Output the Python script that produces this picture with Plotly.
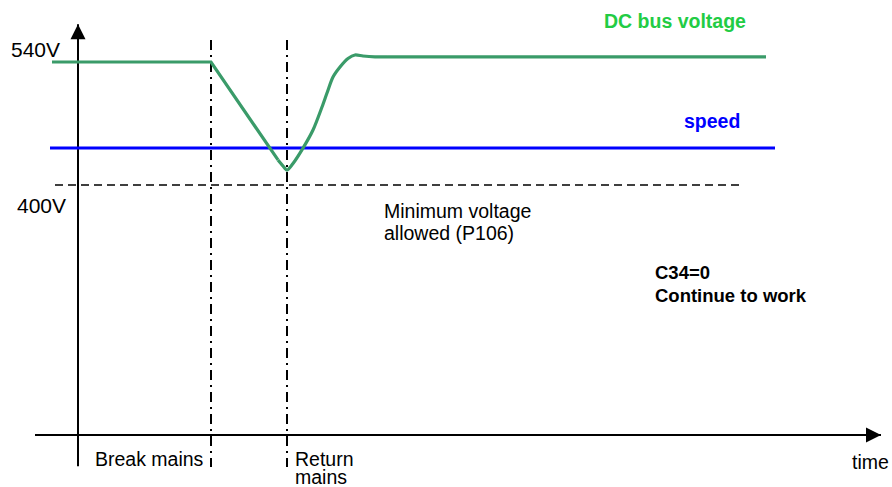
import plotly.graph_objects as go

# ---- data (schematic: time in arbitrary units, voltage in V) ----
# straight part of the DC bus voltage (before and during the mains break)
dc_fall_t = [-26, 133, 200]
dc_fall_v = [540, 540, 428.5]
# recovery after the mains return (smooth)
dc_rise_t = [200, 205, 209, 215, 225, 235, 244, 249, 255, 262, 270, 277, 285, 297, 310]
dc_rise_v = [428.5, 421.6, 417, 424.5, 442, 462.6, 488.8, 504.7, 522.9, 534.3, 544, 548, 546.8, 545.9, 545.9]
# settled part
dc_flat_t = [310, 688]
dc_flat_v = [545.9, 545.9]

speed_t = [-28, 697]
speed_v = [442, 442]

vmin_t = [-23, 662]
vmin_v = [400, 400]

break_t = 133
return_t = 209
marker_v = [565, 79]

# axes of the schematic
yaxis_t = 0
yaxis_v = [80, 583]
xaxis_v = 115.5
xaxis_t = [-43, 803]

GREEN = "#3a9b69"
FONT = "Arial, Liberation Sans, sans-serif"

fig = go.Figure()

fig.add_trace(go.Scatter(x=vmin_t, y=vmin_v, mode="lines",
                         line=dict(color="black", width=1.6, dash="8px,5px"),
                         hoverinfo="skip"))
for t in (break_t, return_t):
    fig.add_trace(go.Scatter(x=[t, t], y=marker_v, mode="lines",
                             line=dict(color="black", width=2, dash="10px,5px,2px,5px"),
                             hoverinfo="skip"))
fig.add_trace(go.Scatter(x=[yaxis_t, yaxis_t], y=yaxis_v, mode="lines",
                         line=dict(color="black", width=2), hoverinfo="skip"))
fig.add_trace(go.Scatter(x=xaxis_t, y=[xaxis_v, xaxis_v], mode="lines",
                         line=dict(color="black", width=2), hoverinfo="skip"))
fig.add_trace(go.Scatter(x=speed_t, y=speed_v, mode="lines",
                         line=dict(color="#0000FF", width=3), hoverinfo="skip"))
fig.add_trace(go.Scatter(x=dc_fall_t, y=dc_fall_v, mode="lines",
                         line=dict(color=GREEN, width=3.2), hoverinfo="skip"))
fig.add_trace(go.Scatter(x=dc_rise_t, y=dc_rise_v, mode="lines",
                         line=dict(color=GREEN, width=3.2, shape="spline", smoothing=0.8),
                         hoverinfo="skip"))
fig.add_trace(go.Scatter(x=dc_flat_t, y=dc_flat_v, mode="lines",
                         line=dict(color=GREEN, width=3.2), hoverinfo="skip"))

# arrow heads of the axes
fig.add_annotation(x=yaxis_t, y=yaxis_v[1], ax=yaxis_t, ay=yaxis_v[1] - 20,
                   xref="x", yref="y", axref="x", ayref="y", text="",
                   showarrow=True, arrowhead=2, arrowsize=1.5, arrowwidth=2,
                   arrowcolor="black")
fig.add_annotation(x=xaxis_t[1], y=xaxis_v, ax=xaxis_t[1] - 20, ay=xaxis_v,
                   xref="x", yref="y", axref="x", ayref="y", text="",
                   showarrow=True, arrowhead=2, arrowsize=1.5, arrowwidth=2,
                   arrowcolor="black")

def label(text, x, y, size=19.5, color="black", anchor="left", bold=False):
    if bold:
        text = "<b>" + text + "</b>"
    fig.add_annotation(x=x, y=y, xref="x", yref="y", text=text, showarrow=False,
                       xanchor=anchor, yanchor="middle", borderpad=0,
                       font=dict(family=FONT, size=size, color=color))

label("540V", -43, 554.2, size=21, anchor="center")
label("400V", -36.5, 376.7, size=21, anchor="center")
label("DC bus voltage", 597, 587, size=19.5, color="#22CC44", anchor="center", bold=True)
label("speed", 634, 473, size=19.5, color="#0000FF", anchor="center", bold=True)
label("Minimum voltage", 305, 370.5)
label("allowed (P106)", 305, 345.5)
label("C34=0", 576, 300, size=18.5, bold=True)
label("Continue to work", 576, 274, size=18.5, bold=True)
label("Break mains", 16, 88.1)
label("Return", 216, 88)
label("mains", 216, 67.5)
label("time", 773, 84.7)

fig.update_layout(
    width=892, height=487,
    margin=dict(l=0, r=0, t=0, b=0),
    paper_bgcolor="white", plot_bgcolor="white",
    showlegend=False,
    xaxis=dict(range=[-78, 814], visible=False, fixedrange=True),
    yaxis=dict(range=[56.3, 610.57], visible=False, fixedrange=True),
)

fig.write_html("out.html", config={"displayModeBar": False},
               post_script="document.body.style.margin='0';document.body.style.overflow='hidden';")
